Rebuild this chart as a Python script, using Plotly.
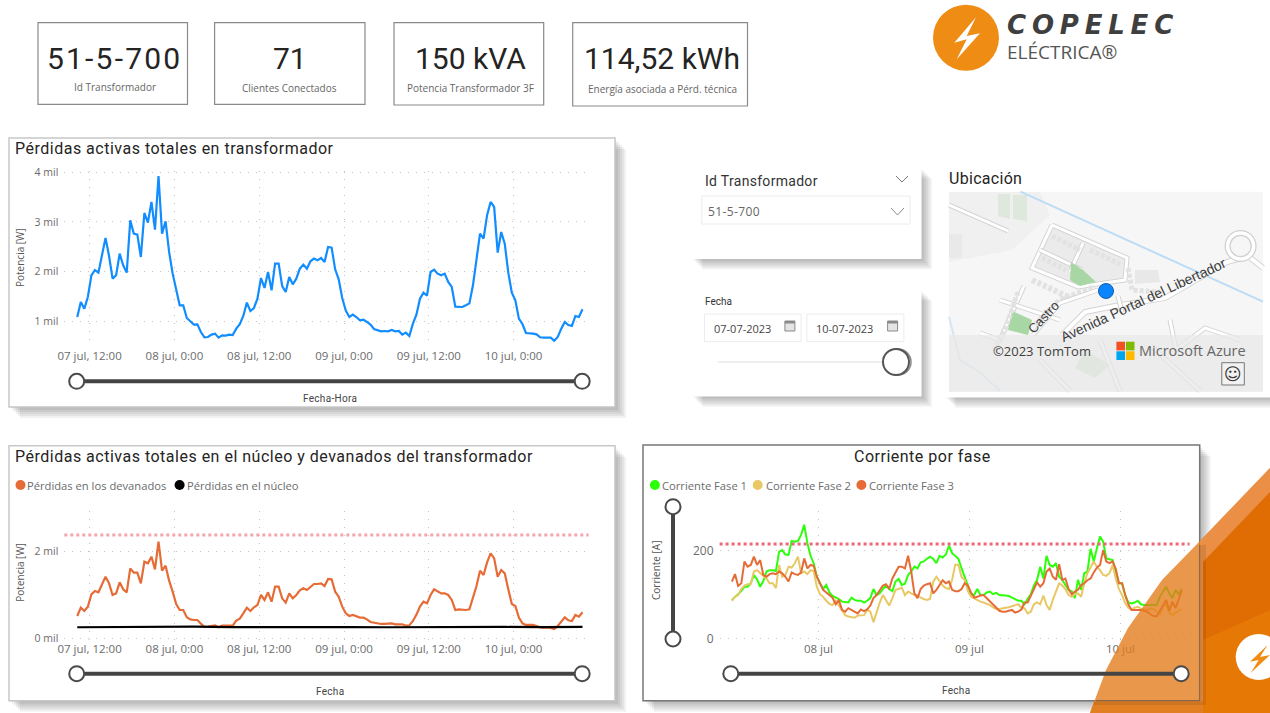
import pandas as pd
import plotly.graph_objects as go

W, H = 1270, 713

fechas = pd.date_range('2023-07-07 10:15', periods=144, freq='30min')

perdidas_totales = [
    1087, 1389, 1255, 1490, 1926, 2033, 1980, 2329, 2680, 2315, 1859, 1926,
    2362, 2127, 1980, 3033, 2765, 2745, 2295, 3181, 2986, 3403, 2845, 3926,
    2765, 3013, 2396, 1960, 1604, 1322, 1322, 1067, 1000, 933, 940, 785,
    678, 685, 732, 752, 671, 718, 711, 732, 725, 852, 940, 1107,
    1376, 1208, 1268, 1456, 1872, 1671, 1993, 1624, 2161, 2161, 1711, 1591,
    1893, 1745, 1859, 2060, 2141, 2060, 2208, 2262, 2228, 2275, 2195, 2497,
    2483, 2047, 1846, 1470, 1215, 1087, 1134, 1087, 1020, 1034, 987, 933,
    846, 826, 799, 805, 799, 826, 799, 805, 732, 772, 705, 953,
    1134, 1456, 1577, 1517, 1993, 2040, 1960, 1926, 1960, 1792, 1691, 1295,
    1295, 1288, 1322, 1362, 1725, 2221, 2765, 2664, 3134, 3403, 3302, 2382,
    2799, 2564, 1980, 1577, 1423, 1054, 946, 765, 765, 752, 738, 678,
    671, 678, 671, 611, 685, 852, 987, 926, 906, 1107, 1087, 1242,
]

perdidas_devanados = [
    515, 708, 631, 731, 1015, 1092, 1062, 1246, 1423, 1269, 1000, 1038,
    1292, 1131, 1062, 1615, 1515, 1515, 1269, 1769, 1731, 1885, 1592, 2231,
    1561, 1677, 1331, 1077, 792, 654, 654, 485, 438, 423, 423, 338,
    262, 269, 292, 300, 254, 292, 292, 300, 292, 408, 454, 577,
    708, 631, 715, 769, 1000, 885, 1062, 846, 1192, 1192, 923, 823,
    1038, 923, 1000, 1108, 1154, 1115, 1192, 1254, 1254, 1269, 1208, 1369,
    1362, 1077, 962, 731, 577, 515, 538, 500, 477, 477, 438, 377,
    362, 338, 331, 331, 331, 346, 323, 323, 323, 292, 300, 400,
    546, 731, 846, 808, 1000, 1131, 1092, 1038, 1038, 1000, 885, 654,
    669, 654, 654, 669, 923, 1208, 1561, 1462, 1754, 1962, 1846, 1423,
    1577, 1500, 1131, 792, 746, 477, 346, 308, 308, 308, 285, 254,
    246, 254, 238, 215, 285, 392, 485, 415, 400, 538, 500, 600,
]

# nucleo is nearly flat, so it is read only every 5.5 h
perdidas_nucleo = [255, 262, 262, 268, 258, 262, 265, 258, 255, 262, 260, 262, 258, 264]

corriente_fase_1 = [
    88, 94, 101, 108, 118, 118, 126, 145, 135, 118, 131, 153,
    156, 156, 154, 198, 202, 192, 191, 223, 221, 223, 237, 260,
    218, 189, 172, 141, 126, 113, 122, 105, 97, 94, 90, 84,
    83, 82, 93, 88, 86, 86, 82, 86, 92, 113, 99, 103,
    113, 121, 113, 108, 130, 136, 122, 125, 145, 153, 164, 160,
    174, 176, 182, 187, 182, 172, 189, 185, 192, 212, 195, 189,
    182, 160, 139, 121, 101, 99, 113, 99, 99, 105, 107, 101,
    104, 99, 99, 98, 97, 93, 89, 86, 86, 78, 90, 101,
    121, 134, 164, 137, 189, 168, 164, 172, 141, 134, 122, 111,
    108, 92, 134, 111, 149, 153, 205, 176, 206, 233, 221, 183,
    181, 179, 153, 126, 126, 99, 82, 80, 82, 86, 78, 76,
    76, 76, 75, 76, 95, 108, 118, 103, 92, 111, 101, 113,
]

corriente_fase_2 = [
    86, 95, 99, 113, 121, 124, 124, 153, 156, 150, 145, 137,
    126, 126, 115, 168, 141, 145, 164, 162, 172, 187, 149, 153,
    147, 156, 154, 118, 101, 95, 86, 79, 76, 86, 75, 63,
    53, 50, 48, 47, 52, 53, 53, 65, 61, 37, 60, 82,
    99, 86, 75, 92, 111, 113, 116, 99, 107, 103, 99, 99,
    93, 90, 88, 90, 130, 141, 131, 121, 115, 113, 134, 169,
    168, 140, 134, 108, 95, 91, 87, 84, 82, 79, 76, 71,
    67, 67, 69, 70, 71, 73, 76, 78, 70, 69, 57, 61,
    78, 82, 78, 98, 76, 65, 88, 107, 126, 121, 113, 99,
    95, 101, 103, 95, 126, 149, 164, 176, 164, 156, 145, 143,
    149, 168, 137, 113, 99, 80, 70, 66, 70, 72, 68, 66,
    65, 68, 67, 61, 55, 71, 78, 59, 53, 59, 63, 67,
]

corriente_fase_3 = [
    130, 147, 120, 126, 176, 164, 168, 187, 168, 179, 145, 141,
    147, 149, 147, 153, 149, 141, 130, 151, 147, 145, 151, 183,
    160, 168, 166, 141, 126, 111, 105, 99, 93, 78, 88, 65,
    61, 69, 65, 60, 57, 66, 62, 66, 75, 92, 99, 110,
    121, 124, 113, 137, 151, 164, 164, 160, 189, 153, 103, 92,
    113, 121, 124, 126, 103, 111, 122, 133, 126, 130, 111, 108,
    108, 113, 126, 121, 105, 93, 95, 98, 99, 92, 84, 78,
    69, 63, 61, 61, 63, 65, 59, 61, 66, 82, 82, 99,
    113, 128, 118, 126, 153, 160, 141, 134, 170, 134, 137, 113,
    101, 107, 111, 122, 126, 133, 137, 151, 162, 168, 202, 176,
    172, 176, 159, 126, 126, 99, 78, 65, 65, 65, 65, 63,
    61, 55, 51, 50, 63, 78, 88, 63, 84, 69, 88, 110,
]

limite_devanados = 2383
limite_corriente = 216

ticks_fecha_hora = ['2023-07-07 12:00', '2023-07-08 00:00', '2023-07-08 12:00',
                    '2023-07-09 00:00', '2023-07-09 12:00', '2023-07-10 00:00']
labels_fecha_hora = ['07 jul, 12:00', '08 jul, 0:00', '08 jul, 12:00',
                     '09 jul, 0:00', '09 jul, 12:00', '10 jul, 0:00']
ticks_dia = ['2023-07-08', '2023-07-09', '2023-07-10']
labels_dia = ['08 jul', '09 jul', '10 jul']

kpis = [
    ('51-5-700', 'Id Transformador', 114.5, 87.5, 2.2),
    ('71', 'Clientes Conectados', 289.8, 88, 0),
    ('150 kVA', 'Potencia Transformador 3F', 470.5, 88, 0),
    ('114,52 kWh', 'Energía asociada a Pérd. técnica', 662, 89, 0),
]

COLOR_TEXT = '#252423'
COLOR_AXIS = '#6b6b6b'
TITLE_FONT = 'Roboto'
BODY_FONT = 'Open Sans'

shapes = []
annotations = []


def px(x):
    return x / W


def py(y):
    return 1 - y / H


def rect(x0, y0, x1, y1, fill='white', line=None, width=1, layer='below'):
    shapes.append(dict(type='rect', xref='paper', yref='paper', layer=layer,
                       x0=px(x0), y0=py(y0), x1=px(x1), y1=py(y1), fillcolor=fill,
                       line=dict(color=line or 'rgba(0,0,0,0)', width=width if line else 0)))


def circle(cx, cy, r, fill='white', line=None, width=1, layer='below'):
    shapes.append(dict(type='circle', xref='paper', yref='paper', layer=layer,
                       x0=px(cx - r), y0=py(cy - r), x1=px(cx + r), y1=py(cy + r), fillcolor=fill,
                       line=dict(color=line or 'rgba(0,0,0,0)', width=width if line else 0)))


def poly(points, fill=None, line=None, width=1, closed=True, dash=None, layer='below'):
    coords = ['%.5f,%.5f' % (px(x), py(y)) for x, y in points]
    path = 'M' + ' L'.join(coords)
    if closed:
        path += ' Z'
    shapes.append(dict(type='path', xref='paper', yref='paper', layer=layer, path=path,
                       fillcolor=fill or 'rgba(0,0,0,0)',
                       line=dict(color=line or 'rgba(0,0,0,0)', width=width if line else 0, dash=dash)))


def label(x, y, text, size=11, color=COLOR_AXIS, family=BODY_FONT, anchor='left', angle=0, spacing=0):
    if spacing:
        text = '<span style="letter-spacing:%spx">%s</span>' % (spacing, text)
    if anchor == 'left':
        x -= 2  # annotations keep a small inner padding
    annotations.append(dict(xref='paper', yref='paper', x=px(x), y=py(y), text=text, showarrow=False,
                            xanchor=anchor, yanchor='middle', textangle=angle,
                            font=dict(size=size, color=color, family=family)))


def card(x0, y0, x1, y1, border='#c8c8c8'):
    # soft shadow built from stacked translucent rectangles
    for d in (1, 3, 5, 7, 9, 11):
        rect(x0 + d, y0 + d, x1 + d, y1 + d, fill='rgba(0,0,0,0.055)')
    rect(x0, y0, x1, y1, fill='white', line=border, width=1.5)


def slider(x0, y0, x1, y1, layer='below'):
    shapes.append(dict(type='line', xref='paper', yref='paper', layer=layer,
                       x0=px(x0), y0=py(y0), x1=px(x1), y1=py(y1), line=dict(color='#444444', width=4)))
    circle(x0, y0, 7.5, line='#4a4a4a', width=2, layer=layer)
    circle(x1, y1, 7.5, line='#4a4a4a', width=2, layer=layer)


def road(points, width=3):
    poly(points, line='#d4d4d4', width=width + 2, closed=False)
    poly(points, line='#ffffff', width=width, closed=False)


def houses(points, width=5):
    # rows of small buildings along the streets
    poly(points, line='#e2e2e2', width=width, closed=False, dash='4px,2px')


# KPI cards
for (value, caption, cx, cap_y, spacing), (x0, x1, y1) in zip(kpis, [(38, 187.5, 104.3), (214.6, 365, 104.3),
                                                                  (394, 543.7, 105), (572.7, 747.5, 106)]):
    rect(x0, 22.7, x1, y1, fill='white', line='#8a8a8a', width=1.2)
    label(cx, 59, value, size=30, color=COLOR_TEXT, family=TITLE_FONT, anchor='center', spacing=spacing)
    label(cx, cap_y, caption, size=10, color='#666666', family=BODY_FONT, anchor='center')

# logo
circle(966, 37.7, 33, fill='#EE8C14')
poly([(976, 17.3), (954.3, 42.7), (966.7, 39.3), (956.7, 59.3), (980, 33.3), (966.7, 36)], fill='white')
label(1007, 24.5, '<b><i>COPELEC</i></b>', size=26, color='#3f3f3f', family='DejaVu Sans', spacing=5.8)
label(1007, 52, 'ELÉCTRICA®', size=19, color='#555555', family=BODY_FONT)

# chart cards
card(9, 138, 615, 407)
card(9, 445.7, 615, 700.7)
card(643, 445, 1199.7, 700.7, border='#777777')

# filter cards
card(691.3, 167.3, 920.8, 258.3, border='#ffffff')
card(691.3, 289.3, 920.8, 395.7, border='#ffffff')
label(704.5, 180.7, 'Id Transformador', size=14, color='#333333', family=TITLE_FONT, spacing=0.3)
poly([(896, 176), (902, 182), (908, 176)], line='#777777', width=1, closed=False)
rect(701.8, 196, 910, 224, line='#ececec')
label(707.5, 211.7, '51-5-700', size=12, color='#666666', spacing=0.4)
poly([(891, 208), (897.5, 215), (904, 208)], line='#888888', width=1, closed=False)
label(704.5, 301.3, 'Fecha', size=10, color='#333333', family=TITLE_FONT)
rect(704.5, 314, 801, 341.7, line='#ececec')
rect(806.8, 314, 903.9, 341.7, line='#ececec')
label(713.5, 328.3, '07-07-2023', size=11, color='#444444')
label(816.2, 328.3, '10-07-2023', size=11, color='#444444')
for icon_x in (789.9, 892.6):
    rect(icon_x - 5, 321, icon_x + 5, 331, fill='#e4e4e4', line='#8a8a8a')
    rect(icon_x - 5, 321, icon_x + 5, 323.5, fill='#8a8a8a')
rect(717.6, 361, 885, 363, fill='#eeeeee')
circle(898, 362, 13, line='#888888', width=1.5)
circle(896, 362, 13, line='#555555', width=2)

# map card
card(944.5, 167, 1272, 396.7, border='#ffffff')
label(949, 178, 'Ubicación', size=16, color=COLOR_TEXT, family=TITLE_FONT, spacing=0.3)
rect(949, 191.7, 1263, 391.7, fill='#f6f6f6')
poly([(949, 192), (1040, 192), (1050, 215), (1012, 250), (949, 262)], fill='#f0f0f0')
rect(949, 234, 962, 258, fill='#e9e9e9')
poly([(998, 194), (1010, 194), (1010, 219), (998, 216)], fill='#dfe8dc')
poly([(1013, 195), (1027, 195), (1027, 221), (1013, 219)], fill='#dfe8dc')
poly([(1020.5, 191.7), (1263, 301.7)], line='#bcdcf6', width=2, closed=False)
poly([(949, 316.7), (960, 360), (981, 373), (1000, 391)], line='#d5e6f5', width=2, closed=False)
road([(949, 205), (1008, 231)], width=3)
# residential blocks
poly([(1052, 225), (1127, 258), (1125, 280), (1078, 287), (1032, 268)], fill='#ebebeb')
road([(1052, 225), (1127, 258), (1125, 280), (1078, 287), (1032, 268), (1052, 225)])
road([(1040, 250), (1082, 270)])
road([(1083, 243), (1070, 272)])
houses([(1052, 236), (1080, 250)])
houses([(1090, 250), (1120, 264)])
houses([(1042, 258), (1066, 270)])
poly([(1071, 262), (1083, 270), (1096, 282), (1080, 286), (1070, 280)], fill='#a9d6a5')
road([(1024, 286), (1000, 340), (980, 333)])
road([(1000, 300), (1060, 320)])
poly([(1012, 311), (1032, 320), (1028, 335), (1008, 330)], fill='#a9d6a5')
houses([(1032, 280), (1075, 300)], width=6)
houses([(1018, 292), (1005, 330), (992, 352)], width=5)
houses([(1035, 325), (1060, 300), (1095, 287)], width=6)
houses([(1128, 268), (1132, 290), (1160, 292)], width=5)
poly([(1135, 270), (1158, 270), (1160, 282), (1135, 284)], fill='#e8e8e8')
road([(1033, 335), (1060, 303), (1098, 290)])
road([(1170, 320), (1176, 350), (1205, 328), (1240, 340)])
road([(1062, 335), (1085, 312), (1115, 306), (1165, 298), (1227, 262), (1248, 256), (1263, 268)], width=4)
road([(1118, 296), (1122, 312)])
circle(1240.6, 246, 13, fill='#f6f6f6', line='#d0d0d0', width=6)
circle(1240.6, 246, 13, fill='rgba(0,0,0,0)', line='#ffffff', width=3.5)
road([(1040, 360), (1070, 391)])
road([(1100, 340), (1120, 391)])
road([(1150, 345), (1200, 391)])
poly([(1085, 350), (1110, 365), (1095, 378), (1075, 368)], fill='#cfe5cd')
label(1143, 300, 'Avenida Portal del Libertador', size=14, color='#3c3c3c', family='Liberation Sans',
      anchor='center', angle=-24.8)
label(1043, 317, 'Castro', size=13, color='#3c3c3c', family='Liberation Sans', anchor='center', angle=-47)
circle(1106, 291, 7.5, fill='#0A84FF', line='#0a5fb0', width=1)
rect(949, 335, 1263, 391.7, fill='rgba(232,232,232,0.72)')
label(993, 351, '©2023 TomTom', size=13, color='#404040', family=BODY_FONT)
rect(1116.4, 341.7, 1125, 350.4, fill='#F25022')
rect(1125.9, 341.7, 1134.5, 350.4, fill='#7FBA00')
rect(1116.4, 351.3, 1125, 360, fill='#00A4EF')
rect(1125.9, 351.3, 1134.5, 360, fill='#FFB900')
label(1139, 351, 'Microsoft Azure', size=14.5, color='#666666', family=BODY_FONT)
rect(1221.8, 362.7, 1244.3, 385, fill='#f2f2f2', line='#777777')
label(1233, 373.5, '☺', size=17, color='#333333', family='DejaVu Sans', anchor='center')

# chart texts
label(15, 148.7, 'Pérdidas activas totales en transformador', size=16, color=COLOR_TEXT, family=TITLE_FONT, spacing=0.5)
label(15, 456.7, 'Pérdidas activas totales en el núcleo y devanados del transformador', size=16,
      color=COLOR_TEXT, family=TITLE_FONT, spacing=0.5)
label(922.4, 456.7, 'Corriente por fase', size=16, color=COLOR_TEXT, family=TITLE_FONT, anchor='center', spacing=0.5)
label(20, 258, 'Potencia [W]', size=10, color='#555555', anchor='center', angle=-90)
label(20, 572.7, 'Potencia [W]', size=10, color='#555555', anchor='center', angle=-90)
label(656, 571, 'Corriente [A]', size=10, color='#555555', anchor='center', angle=-90)
label(330, 398.7, 'Fecha-Hora', size=10, color='#444444', family=TITLE_FONT, anchor='center', spacing=0.3)
label(330, 691.7, 'Fecha', size=10, color='#444444', family=TITLE_FONT, anchor='center', spacing=0.3)
label(956, 690.7, 'Fecha', size=10, color='#444444', family=TITLE_FONT, anchor='center', spacing=0.3)

# legends
circle(20.5, 485, 5, fill='#E66C37')
label(27.3, 485, 'Pérdidas en los devanados', size=11.2)
circle(179.6, 485, 5, fill='#000000')
label(187, 485, 'Pérdidas en el núcleo', size=11.2)
circle(654.9, 485, 5, fill='#2BFF0A')
label(661.7, 485, 'Corriente Fase 1', size=11.2)
circle(757.7, 485, 5, fill='#E8C865')
label(765.8, 485, 'Corriente Fase 2', size=11.2)
circle(861.4, 485, 5, fill='#E66C37')
label(869, 485, 'Corriente Fase 3', size=11.2)

# range sliders
slider(76.7, 381.3, 582.2, 381.3)
slider(76.7, 673.7, 582.2, 673.7)
slider(673, 639, 673, 506.7)

# limit lines
shapes.append(dict(type='line', xref='x2 domain', yref='y2', x0=0, x1=1, y0=limite_devanados, y1=limite_devanados,
                   line=dict(color='#F4A6AE', width=3, dash='dot')))
shapes.append(dict(type='line', xref='x3 domain', yref='y3', x0=0, x1=1, y0=limite_corriente, y1=limite_corriente,
                   line=dict(color='#EE6677', width=3, dash='dot')))

# orange corner of the page, over the chart card
corner_edge = [(1090, 713), (1106, 670), (1128, 628), (1162, 580), (1198, 543), (1270, 468)]
poly(corner_edge + [(1270, 713)], fill='rgba(228,125,30,0.8)', layer='above')
poly([(1200, 541), (1270, 468), (1270, 713), (1200, 713)], fill='#EA8F45', layer='above')
poly([(1203, 562), (1270, 492), (1270, 713), (1203, 713)], fill='#E06C04', layer='above')
poly([(1203, 640), (1270, 610), (1270, 713), (1203, 713)], fill='#E67806', layer='above')
poly([(1094, 701.5), (1203, 701.5), (1203, 713), (1090, 713)], fill='#E27F22', layer='above')
poly([(1096, 700.7), (1199.7, 700.7), (1199.7, 545)], line='rgba(90,90,90,0.6)', width=1.2, closed=False, layer='above')
rect(1094, 701.5, 1206, 705, fill='rgba(0,0,0,0.08)', layer='above')
rect(1200.5, 545, 1206, 701.5, fill='rgba(0,0,0,0.08)', layer='above')
circle(1258.7, 657, 23, fill='white', layer='above')
poly([(1267.6, 645), (1250, 661.7), (1258.7, 660), (1250.7, 673), (1270, 655), (1260, 657)],
     fill='#EE8C14', layer='above')
# this slider sits on top of the orange corner
slider(730.8, 673.7, 1181.2, 673.7, layer='above')

fig = go.Figure()

# chart 1
fig.add_trace(go.Scatter(x=fechas, y=perdidas_totales, mode='lines', line=dict(color='#118DFF', width=2.2),
                         name='Pérdidas totales', xaxis='x', yaxis='y'))

# chart 2
fig.add_trace(go.Scatter(x=fechas, y=perdidas_devanados, mode='lines', line=dict(color='#E66C37', width=2.2),
                         name='Pérdidas en los devanados', xaxis='x2', yaxis='y2'))
fig.add_trace(go.Scatter(x=fechas[::11], y=perdidas_nucleo, mode='lines', line=dict(color='#000000', width=2.2),
                         name='Pérdidas en el núcleo', xaxis='x2', yaxis='y2'))

# chart 3
fig.add_trace(go.Scatter(x=fechas, y=corriente_fase_1, mode='lines', line=dict(color='#2BFF0A', width=2),
                         name='Corriente Fase 1', xaxis='x3', yaxis='y3'))
fig.add_trace(go.Scatter(x=fechas, y=corriente_fase_2, mode='lines', line=dict(color='#E8C865', width=2),
                         name='Corriente Fase 2', xaxis='x3', yaxis='y3'))
fig.add_trace(go.Scatter(x=fechas, y=corriente_fase_3, mode='lines', line=dict(color='#E66C37', width=2),
                         name='Corriente Fase 3', xaxis='x3', yaxis='y3'))


def x_axis(left, right, anchor, date_range, tickvals, ticktext):
    return dict(domain=[px(left), px(right)], anchor=anchor, type='date', range=date_range, automargin=False,
                tickmode='array', tickvals=tickvals, ticktext=ticktext, showline=False, zeroline=False,
                showgrid=True, griddash='1px,7px', gridcolor='#c4c4c4', gridwidth=1.2, ticks='',
                tickfont=dict(size=11.5, color=COLOR_AXIS, family=BODY_FONT))


def y_axis(top, bottom, anchor, value_range, tickvals, ticktext, size=10.5):
    return dict(domain=[py(bottom), py(top)], anchor=anchor, range=value_range, automargin=False,
                tickmode='array', tickvals=tickvals, ticktext=ticktext, showline=False, zeroline=False,
                showgrid=True, griddash='1px,7px', gridcolor='#c4c4c4', gridwidth=1.2, ticks='',
                ticklabelstandoff=5, tickfont=dict(size=size, color=COLOR_AXIS, family=BODY_FONT))


rango_potencia = ['2023-07-07 08:25', '2023-07-10 10:37']

fig.update_layout(
    width=W,
    height=H,
    margin=dict(l=0, r=0, t=0, b=0, autoexpand=False),
    paper_bgcolor='white',
    plot_bgcolor='rgba(0,0,0,0)',
    showlegend=False,
    shapes=shapes,
    annotations=annotations,
    xaxis=x_axis(64.3, 588.6, 'y', rango_potencia, ticks_fecha_hora, labels_fecha_hora),
    yaxis=y_axis(171, 347, 'x', [483, 4026], [1000, 2000, 3000, 4000], ['1 mil', '2 mil', '3 mil', '4 mil']),
    xaxis2=x_axis(64.3, 588.6, 'y2', rango_potencia, ticks_fecha_hora, labels_fecha_hora),
    yaxis2=y_axis(511, 640, 'x2', [-39, 2939], [0, 2000], ['0 mil', '2 mil']),
    xaxis3=x_axis(719.6, 1189.6, 'y3', ['2023-07-07 08:18', '2023-07-10 10:59'], ticks_dia, labels_dia),
    yaxis3=y_axis(511, 640, 'x3', [-3.9, 291.6], [0, 200], ['0', '200'], size=12),
)

fig.write_html("out.html", config={'displayModeBar': False},
               post_script="document.body.style.margin='0';document.body.style.overflow='hidden';")
